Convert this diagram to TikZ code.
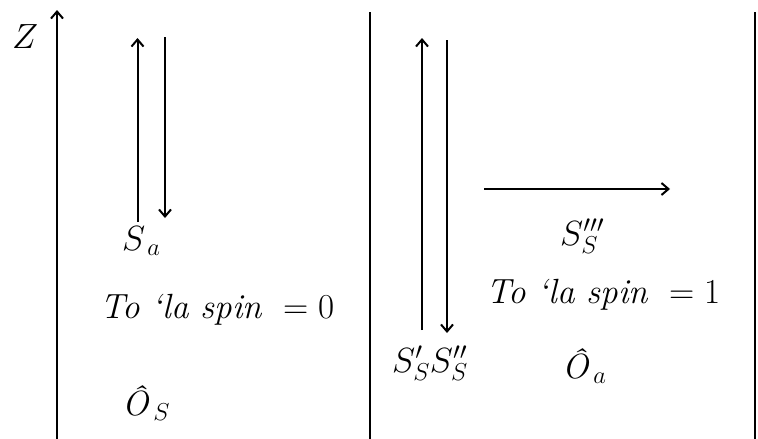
\RequirePackage{fix-cm}
\documentclass[tikz,border=0pt]{standalone}
\usetikzlibrary{arrows.meta}
\begin{document}
\begin{tikzpicture}[x=1pt,y=-1pt,
  frame/.style={line width=2.8pt},
  vec/.style={line width=2pt,-{Straight Barb[length=7pt,width=12pt,line width=2pt]}},
  lbl/.style={anchor=base west,inner sep=0pt,font=\fontsize{35}{38}\selectfont}]
\useasboundingbox (0,0) rectangle (758,439);
% frame lines
\coordinate (zb) at (57,439);
\coordinate (zt) at (57,10);
\coordinate (mb) at (370,439);
\coordinate (mt) at (370,12);
\coordinate (rb) at (755,439);
\coordinate (rt) at (755,12);
\draw[frame,-{Straight Barb[length=7pt,width=12pt,line width=2pt]}] (zb) -- (zt);
\draw[frame] (mb) -- (mt);
\draw[frame] (rb) -- (rt);
% left pair
\coordinate (a1) at (137.5,222);
\coordinate (a2) at (137.5,38);
\coordinate (b1) at (165,37);
\coordinate (b2) at (165,218);
\draw[vec] (a1) -- (a2);
\draw[vec] (b1) -- (b2);
% right pair
\coordinate (c1) at (422,330);
\coordinate (c2) at (422,38);
\coordinate (d1) at (447,40);
\coordinate (d2) at (447,333);
\draw[vec] (c1) -- (c2);
\draw[vec] (d1) -- (d2);
% horizontal
\coordinate (h1) at (484,189);
\coordinate (h2) at (670,189);
\draw[vec] (h1) -- (h2);
% labels
\node[lbl] (zl) at (12,48) {$Z$};
\node[lbl] (sa) at (122,250) {$S_{\,a}$};
\node[lbl] (t0) at (100,318) {\textit{To `la spin} $\;=0$};
\node[lbl] (os) at (122,415) {\textit{Ô}$_{\,S}$};
\node[lbl] (s3) at (560,245) {$S'''_S$};
\node[lbl] (t1) at (486,303) {\textit{To `la spin} $\;=1$};
\node[lbl] (ss) at (392,372) {$S'_S S''_S$};
\node[lbl] (oa) at (562,378) {\textit{Ô}$_{\,a}$};
\end{tikzpicture}
\end{document}
